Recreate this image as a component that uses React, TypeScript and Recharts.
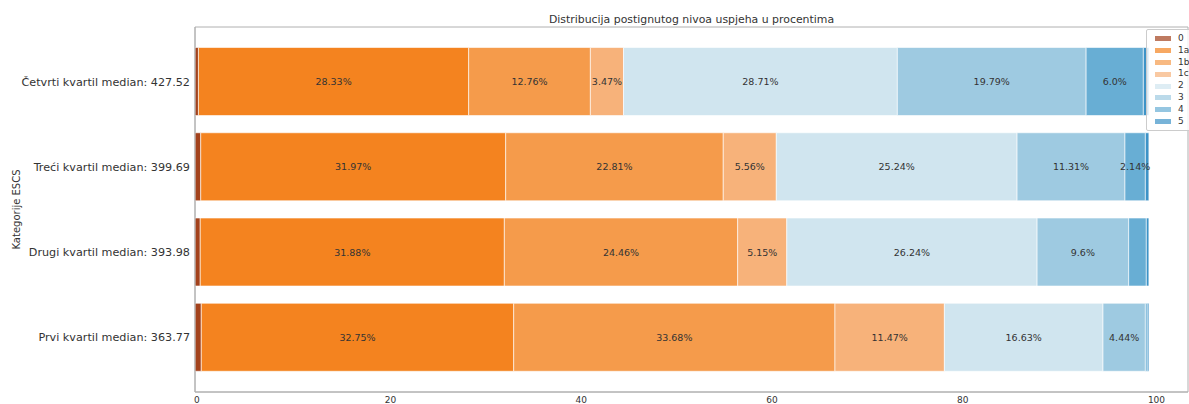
import React from 'react'
import { BarChart, Bar, XAxis, YAxis, LabelList, Legend, CartesianGrid } from 'recharts'

// ESCS quartile categories (top to bottom)
const categories = [
  'Četvrti kvartil median: 427.52',
  'Treći kvartil median: 399.69',
  'Drugi kvartil median: 393.98',
  'Prvi kvartil median: 363.77',
]

const levels = ['0', '1a', '1b', '1c', '2', '3', '4', '5']
const colors = ['#a3421c', '#f4831f', '#f59b4b', '#f7b27a', '#d0e5ef', '#9ecae1', '#68aed4', '#3d93c7']

// percentages per level, one value per category
const level0 = [0.36, 0.6, 0.55, 0.66]
const level1a = [28.33, 31.97, 31.88, 32.75]
const level1b = [12.76, 22.81, 24.46, 33.68]
const level1c = [3.47, 5.56, 5.15, 11.47]
const level2 = [28.71, 25.24, 26.24, 16.63]
const level3 = [19.79, 11.31, 9.6, 4.44]
const level4 = [6.0, 2.14, 1.85, 0.2]
const level5 = [0.58, 0.37, 0.27, 0.17]

const xTicks = [0, 20, 40, 60, 80, 100]

const series = [level0, level1a, level1b, level1c, level2, level3, level4, level5]

const data = categories.map((name, i) => {
  const row: Record<string, string | number> = { name }
  levels.forEach((lvl, j) => {
    row[lvl] = series[j][i]
  })
  return row
})

const textColor = '#333333'
const frameColor = '#b0b0b0'
const font = '"DejaVu Sans", sans-serif'

function fmt(v: number) {
  return Number.isInteger(v) ? v.toFixed(1) : String(v)
}

function SegmentLabel(props: any) {
  const { x, y, width, height, value } = props
  if (value == null || value < 2) return null
  return (
    <text
      x={x + width / 2}
      y={y + height / 2}
      textAnchor="middle"
      dominantBaseline="central"
      fontSize={9.5}
      fontFamily={font}
      fill={textColor}
    >
      {fmt(value)}%
    </text>
  )
}

function LegendBox() {
  return (
    <div
      style={{
        border: '1px solid #cccccc',
        borderRadius: 2,
        background: 'rgba(255,255,255,0.8)',
        padding: '3px 4px 3px 8px',
        fontFamily: font,
        fontSize: 9,
        color: textColor,
        lineHeight: '11.8px',
      }}
    >
      {levels.map((lvl, i) => (
        <div key={lvl} style={{ display: 'flex', alignItems: 'center', whiteSpace: 'nowrap' }}>
          <span
            style={{
              display: 'inline-block',
              width: 16,
              height: 5,
              background: colors[i],
              opacity: 0.7,
              marginRight: 7,
            }}
          />
          {lvl}
        </div>
      ))}
    </div>
  )
}

function YLabel(props: any) {
  const { viewBox } = props
  const cx = viewBox.x + 16
  const cy = viewBox.y + viewBox.height / 2
  return (
    <text
      x={cx}
      y={cy}
      transform={`rotate(-90, ${cx}, ${cy})`}
      textAnchor="middle"
      dominantBaseline="central"
      fontSize={10}
      fontFamily={font}
      fill={textColor}
    >
      Kategorije ESCS
    </text>
  )
}

// frame lines around the plot area, taken from the chart offset
const frameRows = ({ offset }: any) => [offset.top, offset.top + offset.height]
const frameCols = ({ offset }: any) => [offset.left, offset.left + offset.width]

export default function App() {
  return (
    <div style={{ position: 'absolute', left: 0, top: 0, width: 1189, height: 404, background: '#fff' }}>
      <div
        style={{
          position: 'absolute',
          left: 195,
          width: 993,
          top: 13,
          textAlign: 'center',
          fontFamily: font,
          fontSize: 10.9,
          color: textColor,
          lineHeight: '14px',
        }}
      >
        Distribucija postignutog nivoa uspjeha u procentima
      </div>
      <BarChart
        width={1189}
        height={404}
        data={data}
        layout="vertical"
        margin={{ top: 27, right: 1, bottom: 0, left: 0 }}
        barCategoryGap="10%"
      >
        <CartesianGrid
          stroke={frameColor}
          horizontalCoordinatesGenerator={frameRows}
          verticalCoordinatesGenerator={frameCols}
        />
        <XAxis
          type="number"
          domain={[0, 104.1]}
          ticks={xTicks}
          allowDataOverflow
          height={12}
          tickLine={false}
          tickSize={0}
          tickMargin={5}
          axisLine={{ stroke: frameColor }}
          tick={{ fontSize: 9, fill: textColor, fontFamily: font, textAnchor: 'start', dx: -1 }}
        />
        <YAxis
          type="category"
          dataKey="name"
          width={195}
          padding={{ top: 12, bottom: 12 }}
          tickLine={false}
          tickSize={0}
          tickMargin={5}
          axisLine={{ stroke: frameColor }}
          tick={{ fontSize: 11.2, fill: textColor, fontFamily: font }}
          label={<YLabel />}
        />
        {levels.map((lvl, i) => (
          <Bar
            key={lvl}
            dataKey={lvl}
            stackId="a"
            fill={colors[i]}
            stroke="#ffffff"
            strokeWidth={0.6}
            isAnimationActive={false}
          >
            <LabelList dataKey={lvl} content={<SegmentLabel />} />
          </Bar>
        ))}
        <Legend
          layout="vertical"
          align="center"
          verticalAlign="middle"
          wrapperStyle={{ top: 29, left: 1146, width: 50 }}
          content={<LegendBox />}
        />
      </BarChart>
    </div>
  )
}
